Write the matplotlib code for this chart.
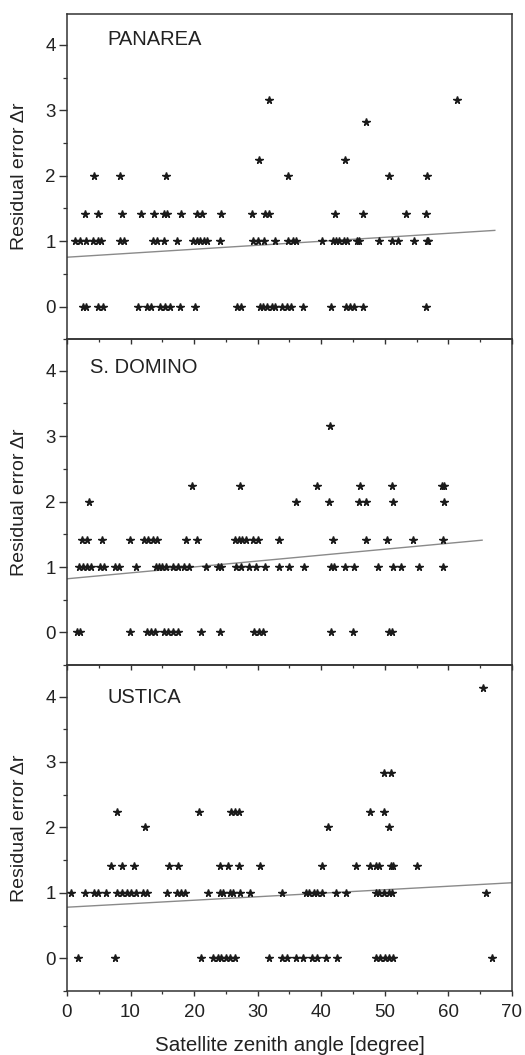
import matplotlib
matplotlib.use('Agg')
import matplotlib.pyplot as plt
from matplotlib.ticker import MultipleLocator

plt.rcParams['font.family'] = ['Liberation Sans', 'DejaVu Sans']

# niveis de erro residual (distancias inteiras na grade)
niveis = [0, 1, 1.414, 2, 2.236, 2.828, 3.162, 4.123]

# angulos zenitais de cada ponto, agrupados por nivel (mesma ordem de niveis)
panarea = [
    [2.5, 3.0, 4.8, 5.7, 11.2, 12.6, 13.2, 14.7, 15.4, 16.2, 17.7, 20.2, 26.7, 27.3,
     30.3, 30.9, 31.5, 32.2, 32.7, 33.8, 34.6, 35.2, 37.1, 41.6, 43.9, 44.5, 45.2, 46.5, 56.4],
    [1.3, 2.0, 3.0, 4.1, 4.8, 5.3, 8.3, 9.0, 13.5, 14.1, 15.2, 17.3, 19.9, 20.4, 21.0,
     21.6, 22.1, 24.1, 29.2, 30.1, 31.0, 32.7, 34.8, 35.5, 36.1, 40.1, 41.8, 42.3, 42.8,
     43.5, 44.1, 45.6, 46.0, 49.1, 51.2, 52.1, 54.6, 56.6, 56.8],
    [2.8, 4.9, 8.7, 11.6, 13.7, 15.2, 15.8, 18.0, 20.5, 21.2, 24.2, 29.1, 31.2, 31.7,
     42.1, 46.5, 53.3, 56.5],
    [4.3, 8.3, 15.6, 34.8, 50.6, 56.7],
    [30.2, 43.8],
    [47.0],
    [31.7, 61.3],
    [],
]
sdomino = [
    [1.5, 2.1, 9.9, 12.6, 13.2, 13.8, 15.2, 15.9, 16.7, 17.4, 21.1, 24.0, 29.4, 30.2,
     30.9, 41.6, 45.0, 50.6, 51.2],
    [1.9, 2.5, 3.1, 3.7, 5.2, 5.9, 7.5, 8.2, 10.8, 14.0, 14.5, 15.0, 15.6, 16.7, 17.5,
     18.4, 19.2, 21.8, 23.7, 24.3, 26.6, 27.3, 28.7, 29.8, 31.2, 33.4, 34.9, 37.3, 41.6,
     42.0, 43.7, 45.2, 49.0, 51.3, 52.5, 55.3, 59.1],
    [2.3, 3.2, 5.5, 9.9, 12.1, 12.8, 13.5, 14.2, 18.7, 20.5, 26.4, 27.1, 27.6, 28.1,
     29.3, 30.1, 33.4, 41.9, 47.1, 50.4, 54.5, 59.1],
    [3.5, 36.0, 41.2, 46.0, 47.0, 51.3, 59.3],
    [19.7, 27.2, 39.4, 46.1, 51.2, 59.0, 59.3],
    [],
    [41.4],
    [],
]
ustica = [
    [1.7, 7.5, 21.1, 23.0, 23.7, 24.3, 25.0, 25.6, 26.5, 31.8, 33.9, 34.6, 36.1, 37.2,
     38.6, 39.4, 40.7, 42.5, 48.6, 49.2, 50.0, 50.7, 51.3, 66.9],
    [0.7, 2.8, 4.3, 4.8, 6.1, 7.9, 8.6, 9.4, 10.0, 10.9, 11.9, 12.6, 15.8, 17.3, 17.9,
     18.6, 22.2, 24.1, 24.6, 25.6, 26.1, 27.2, 28.8, 33.9, 37.6, 38.1, 38.8, 39.4, 40.1,
     42.3, 43.9, 48.6, 49.1, 49.8, 50.6, 51.2, 65.9],
    [6.9, 8.6, 10.5, 16.1, 17.4, 24.1, 25.4, 27.0, 30.4, 40.1, 45.4, 47.7, 48.6, 49.1,
     51.0, 51.3, 55.1],
    [12.2, 41.0, 50.6],
    [7.8, 20.7, 25.8, 26.4, 27.1, 47.7, 49.8],
    [49.8, 50.9],
    [],
    [65.4],
]

estacoes = ['PANAREA', 'S. DOMINO', 'USTICA']
dados = [panarea, sdomino, ustica]
posicao_rotulo = [(6.3, 4.08), (3.6, 4.05), (6.3, 3.98)]

# retas de ajuste: (x inicial, x final) e (y inicial, y final)
reta_x = [[0, 67.3], [0, 65.3], [0, 70]]
reta_y = [[0.755, 1.165], [0.82, 1.41], [0.78, 1.154]]

fig, eixos = plt.subplots(3, 1, figsize=(5.25, 10.55), dpi=100, sharex=True)
fig.subplots_adjust(left=0.1276, right=0.9752, top=0.9872, bottom=0.0607, hspace=0)

for ax, nome, grupos, pos, rx, ry in zip(eixos, estacoes, dados, posicao_rotulo, reta_x, reta_y):
    ax.patch.set_visible(False)
    xs, ys = [], []
    for nivel, angulos in zip(niveis, grupos):
        xs += angulos
        ys += [nivel] * len(angulos)
    ax.plot(rx, ry, color='#8a8a8a', linewidth=1.0, zorder=1)
    ax.plot(xs, ys, linestyle='none', marker='*', markersize=5.3,
            color='#1a1a1a', zorder=2)

    ax.text(pos[0], pos[1], nome, fontsize=14.5, color='#222222', va='center')

    ax.set_xlim(0, 70)
    ax.set_ylim(-0.5, 4.48)
    ax.xaxis.set_major_locator(MultipleLocator(10))
    ax.xaxis.set_minor_locator(MultipleLocator(5))
    ax.yaxis.set_major_locator(MultipleLocator(1))
    ax.yaxis.set_minor_locator(MultipleLocator(0.5))
    ax.tick_params(which='both', direction='out', colors='#333333', labelcolor='#222222',
                   labelsize=13.5)
    ax.tick_params(axis='x', which='major', length=3.8, width=1.0, pad=5.5)
    ax.tick_params(axis='x', which='minor', length=2.3, width=0.9)
    ax.tick_params(axis='y', which='major', length=6, width=1.0, pad=2)
    ax.tick_params(axis='y', which='minor', length=2.6, width=0.9)
    for lado in ax.spines.values():
        lado.set_linewidth(1.1)
        lado.set_color('#333333')
    ax.set_ylabel('Residual error Δr', fontsize=14, color='#222222')
    ax.yaxis.set_label_coords(-0.088, 0.5)

eixos[-1].set_xlabel('Satellite zenith angle [degree]', fontsize=14.8, color='#222222',
                     labelpad=11)

fig.savefig('out.png', dpi=100, facecolor='white')
